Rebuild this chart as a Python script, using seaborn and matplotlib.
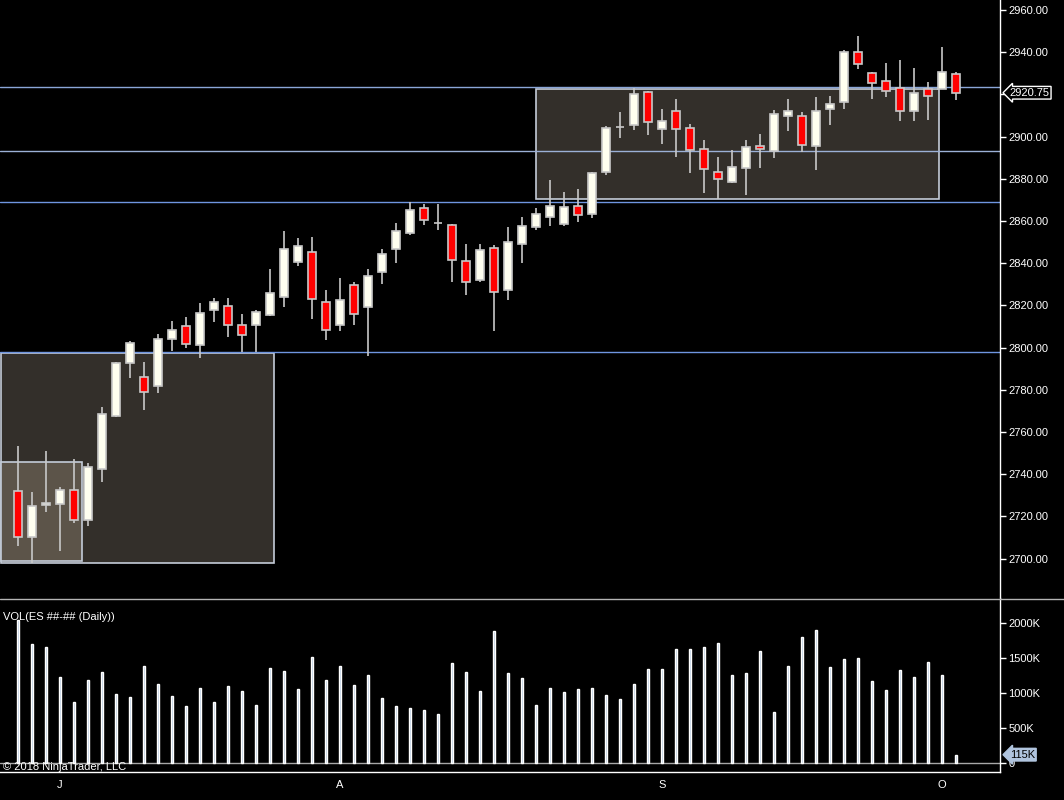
import numpy as np
import pandas as pd
import matplotlib.pyplot as plt
from matplotlib.lines import Line2D
from matplotlib.patches import Rectangle
import seaborn as sns

# daily ES bars, late June -> early October 2018
opens = [2732, 2710, 2725.5, 2726, 2732.5, 2718.5, 2742.5, 2767.5, 2792.5, 2786,
         2782, 2804, 2810, 2801, 2818, 2819.5, 2810.5, 2810.5, 2815.5, 2824,
         2840.5, 2845.5, 2821.5, 2810.5, 2829.5, 2819, 2836, 2846.5, 2854.5, 2866,
         2859, 2858, 2841, 2832, 2847, 2827.5, 2849, 2857, 2862, 2858.5,
         2867, 2863.5, 2883, 2904.5, 2905.5, 2921, 2903.5, 2912, 2904, 2894,
         2883, 2878.5, 2885, 2895.5, 2893, 2909.5, 2909.5, 2895.5, 2913, 2916.5,
         2940, 2930, 2926.5, 2923, 2912, 2922.5, 2922.75, 2929.5]
highs = [2753.5, 2731.5, 2751, 2734, 2747, 2745.5, 2772, 2793, 2803, 2793,
         2806.5, 2812.5, 2814.5, 2821, 2823.5, 2823.5, 2816, 2818, 2837, 2855,
         2852, 2852.5, 2827.5, 2833, 2831, 2837, 2846.5, 2859, 2869, 2868,
         2868, 2858.5, 2849, 2849, 2848.5, 2857, 2862, 2866, 2879.5, 2873.5,
         2875, 2883, 2905, 2911.5, 2923, 2921.5, 2913, 2918, 2906, 2898.5,
         2890.5, 2893.5, 2898.5, 2901, 2912.5, 2918, 2911.5, 2918.5, 2919, 2941,
         2947.5, 2930.5, 2935, 2936.5, 2932.5, 2926, 2942.5, 2930.5]
lows = [2706, 2698, 2722, 2703.5, 2717, 2715.5, 2736.5, 2767, 2785.5, 2770.5,
        2778.5, 2798.5, 2800, 2795, 2812, 2805, 2798, 2798, 2815, 2819,
        2838.5, 2813.5, 2803.5, 2808, 2810.5, 2796, 2830, 2840, 2853.5, 2858,
        2855.5, 2831, 2825, 2831, 2808, 2822.5, 2840, 2855.5, 2857.5, 2857.5,
        2859.5, 2861.5, 2882, 2899.5, 2903, 2900.5, 2896.5, 2890.5, 2882.5, 2873,
        2870.5, 2878, 2872.5, 2885, 2890, 2902.5, 2892.5, 2884, 2905.5, 2913,
        2932, 2918, 2918.5, 2907.5, 2907.5, 2908, 2922.5, 2917.5]
closes = [2710, 2725, 2726.5, 2732.5, 2718.5, 2743.5, 2768.5, 2792.5, 2802, 2779,
          2804, 2808.5, 2801.5, 2816.5, 2821.5, 2810.5, 2806, 2817, 2826, 2846.5,
          2848, 2823, 2808.5, 2822.5, 2816, 2834, 2844.5, 2855, 2865, 2860.5,
          2859, 2841.5, 2831, 2846, 2826.5, 2850, 2857.5, 2863.5, 2867, 2866.5,
          2863, 2882.5, 2904, 2904.5, 2920, 2907, 2907.5, 2903.5, 2893.5, 2884.5,
          2880, 2885.5, 2895, 2894, 2910.5, 2912, 2896, 2912, 2915.5, 2940,
          2934.5, 2925.5, 2921.5, 2912, 2920.5, 2919, 2930.5, 2920.75]
# volume in thousands of contracts
volumes = [2050, 1706, 1662, 1231, 872, 1188, 1303, 987, 944, 1389,
           1131, 958, 815, 1073, 872, 1102, 1030, 829, 1361, 1318,
           1059, 1519, 1188, 1389, 1116, 1260, 929, 815, 786, 757,
           700, 1432, 1303, 1030, 1893, 1289, 1219, 833, 1076, 1019,
           1062, 1076, 976, 919, 1133, 1348, 1348, 1633, 1633, 1662,
           1719, 1262, 1290, 1605, 733, 1390, 1805, 1905, 1376, 1490,
           1505, 1176, 1048, 1333, 1233, 1448, 1262, 115]

month_pos = [3, 23, 46, 66]
month_labels = ['J', 'A', 'S', 'O']
price_ticks = list(range(2700, 2961, 20))
vol_ticks = [0, 500, 1000, 1500, 2000]

# drawn levels and consolidation zones (bar index from/to, price from/to)
level_lines = [2923.5, 2893.2, 2868.9, 2797.8]
level_colors = ['#8aa6d8', '#9bb0d6', '#6f95e0', '#6f95e0']
zones = [(-1.2, 18.31, 2697.8, 2797.3, '#332f2a'),
         (-1.2, 4.59, 2698.7, 2745.6, '#5c5449'),
         (37.02, 65.76, 2870.3, 2922.4, '#332f2a')]
last_price = 2920.75
last_volume = 115

df = pd.DataFrame({'open': opens, 'high': highs, 'low': lows,
                   'close': closes, 'volume': volumes})
df['idx'] = np.arange(len(df))

sns.set_style('dark', rc={'axes.facecolor': 'black', 'figure.facecolor': 'black',
                          'axes.grid': False})
plt.rcParams['font.family'] = ['Liberation Sans', 'DejaVu Sans']

W, H = 1064, 800
fig = plt.figure(figsize=(W / 100, H / 100), dpi=100)
ax = fig.add_axes([0, 202 / H, 1000 / W, 598 / H])
axv = fig.add_axes([0, 28 / H, 1000 / W, 174 / H])

xlim = (-18 / 14, (1000 - 18) / 14)

# ---- price panel ----
for z in zones:
    ax.add_patch(Rectangle((z[0], z[2]), z[1] - z[0], z[3] - z[2],
                           facecolor=z[4], edgecolor='#c4ccd8', lw=1.2, zorder=1))
for lv, c in zip(level_lines, level_colors):
    ax.axhline(lv, color=c, lw=1, zorder=1.5)

up = df['close'] >= df['open']
ax.vlines(df['idx'], df['low'], df['high'], color='#c8c8c8', lw=1.2, zorder=2)
ax.bar(df['idx'], (df['close'] - df['open']).abs(),
       bottom=df[['open', 'close']].min(axis=1), width=0.58,
       color=np.where(up, '#fffff0', '#ff0000'), edgecolor='#c8c8c8',
       lw=1.2, zorder=3)

ax.set_xlim(*xlim)
ax.set_ylim(2681.3, 2964.7)
ax.yaxis.tick_right()
ax.set_yticks(price_ticks)
# the last-price marker covers the 2920 label
ax.set_yticklabels(['' if p == 2920 else f'{p:.2f}' for p in price_ticks])
ax.tick_params(axis='y', colors='white', labelcolor='white', length=4, width=1,
               pad=2, labelsize=8, direction='out')
ax.set_xticks([])
for s in ['top', 'left', 'bottom']:
    ax.spines[s].set_visible(False)
ax.spines['right'].set_color('white')
ax.spines['right'].set_linewidth(1)

ax.annotate(f'{last_price:.2f}', xy=(1, last_price),
            xycoords=('axes fraction', 'data'), xytext=(7, 0),
            textcoords='offset points', ha='left', va='center',
            color='white', fontsize=8,
            bbox=dict(boxstyle='larrow,pad=0.12', fc='black', ec='white', lw=1))

# ---- volume panel ----
sns.barplot(data=df, x='idx', y='volume', native_scale=True, width=0.16,
            color='#b0c4de', saturation=1, ax=axv, zorder=2)
axv.axhline(0, color='#a8a8a8', lw=1, zorder=1)
axv.set_xlim(*xlim)
axv.set_ylim(-134, 2366)
axv.set_xlabel('')
axv.set_ylabel('')
axv.yaxis.tick_right()
axv.set_yticks(vol_ticks)
axv.set_yticklabels(['0' if v == 0 else f'{v}K' for v in vol_ticks])
axv.tick_params(axis='both', colors='white', labelcolor='white', length=4,
                width=1, pad=2, labelsize=8, direction='out')
axv.set_xticks(month_pos)
axv.set_xticklabels(month_labels)
for s in ['top', 'left']:
    axv.spines[s].set_visible(False)
for s in ['right', 'bottom']:
    axv.spines[s].set_color('white')
    axv.spines[s].set_linewidth(1)

axv.annotate(f'{last_volume}K', xy=(1, last_volume),
             xycoords=('axes fraction', 'data'), xytext=(7, 0),
             textcoords='offset points', ha='left', va='center',
             color='black', fontsize=8, zorder=5,
             bbox=dict(boxstyle='larrow,pad=0.12', fc='#b0c4de', ec='#b0c4de', lw=1))

# panel separator and captions
fig.add_artist(Line2D([0, 1], [1 - 598.5 / H] * 2, transform=fig.transFigure,
                      color='#b4b4b4', lw=1))
fig.text(3 / W, 1 - 617 / H, 'VOL(ES ##-## (Daily))', color='white',
         fontsize=8, ha='left', va='center')
fig.text(3 / W, 1 - 767 / H, '© 2018 NinjaTrader, LLC', color='white',
         fontsize=8, ha='left', va='center')

fig.savefig('out.png', dpi=100, facecolor='black')
